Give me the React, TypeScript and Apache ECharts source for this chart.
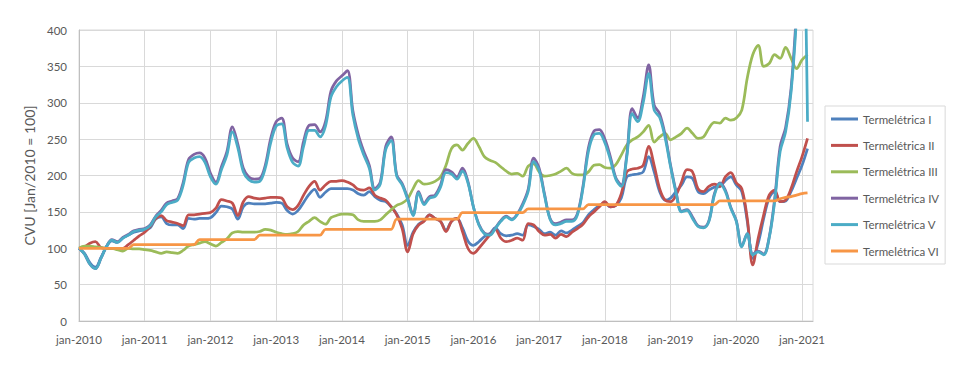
import React, { useEffect, useRef } from "react";
import * as echarts from "echarts";

const MONTHS = ["jan", "fev", "mar", "abr", "mai", "jun", "jul", "ago", "set", "out", "nov", "dez"];
const YEARS = [2010, 2011, 2012, 2013, 2014, 2015, 2016, 2017, 2018, 2019, 2020, 2021];
const LAST_MONTH_2021 = 3; // axis runs to mar-2021
const categories: string[] = [];
YEARS.forEach((y) => {
  MONTHS.forEach((m, i) => {
    if (y < 2021 || i < LAST_MONTH_2021) categories.push(`${m}-${y}`);
  });
});

const SERIES_NAMES = [
  "Termelétrica I",
  "Termelétrica II",
  "Termelétrica III",
  "Termelétrica IV",
  "Termelétrica V",
  "Termelétrica VI",
];

const TERM_I = [
  100, 93, 80, 74, 87, 102, 110, 108, 114, 118,
  122, 124, 125, 128, 140, 143, 134, 132, 132, 127,
  141, 140, 141, 141, 142, 149, 158, 157, 154, 140,
  157, 162, 161, 161, 161, 162, 163, 162, 152, 147,
  152, 163, 174, 181, 170, 177, 182, 182, 182, 182,
  180, 175, 173, 178, 171, 166, 164, 157, 147, 132,
  104, 122, 133, 138, 146, 141, 137, 125, 137, 141,
  128, 110, 104, 109, 116, 120, 128, 120, 117, 118,
  120, 118, 132, 130, 126, 120, 122, 118, 124, 121,
  125, 130, 135, 146, 153, 159, 162, 157, 159, 169,
  198, 201, 202, 205, 226, 205, 178, 166, 169, 178,
  187, 198, 196, 178, 175, 180, 184, 185, 193, 198,
  187, 178, 137, 86, 107, 141, 169, 178, 164, 165,
  178, 196, 214, 237,
];

const TERM_II = [
  100, 102, 107, 109, 101, 100, 100, 100, 100, 105,
  111, 117, 122, 130, 141, 145, 138, 136, 134, 131,
  146, 146, 147, 148, 149, 155, 167, 165, 162, 145,
  164, 171, 169, 168, 169, 170, 170, 169, 157, 153,
  159, 173, 185, 192, 180, 187, 192, 192, 193, 191,
  187, 181, 180, 183, 173, 169, 166, 157, 146, 127,
  95, 120, 132, 137, 146, 141, 137, 123, 137, 141,
  123, 100, 93, 100, 109, 118, 126, 114, 109, 111,
  114, 111, 134, 132, 123, 118, 119, 114, 119, 116,
  122, 127, 133, 143, 150, 157, 164, 157, 159, 175,
  205, 209, 210, 214, 240, 214, 182, 166, 164, 173,
  191, 208, 205, 182, 178, 185, 188, 185, 198, 204,
  190, 182, 141, 77, 114, 146, 173, 180, 164, 166,
  182, 205, 226, 251,
];

const TERM_III = [
  100, 103, 103, 102, 101, 100, 100, 98, 96, 100,
  99, 99, 98, 97, 95, 93, 95, 94, 93, 97,
  103, 105, 107, 109, 106, 103, 108, 113, 121, 123,
  122, 122, 122, 123, 126, 125, 122, 120, 119, 120,
  123, 132, 137, 142, 137, 133, 142, 145, 147, 147,
  146, 139, 137, 137, 137, 139, 146, 153, 159, 162,
  168, 182, 193, 188, 189, 192, 198, 214, 237, 242,
  235, 244, 251, 240, 226, 221, 218, 212, 206, 202,
  203, 199, 213, 216, 205, 199, 200, 202, 206, 210,
  203, 201, 201, 205, 214, 215, 211, 210, 215, 228,
  242, 249, 253, 260, 269, 246, 253, 258, 249, 253,
  258, 265, 258, 251, 253, 265, 273, 272, 279, 276,
  279, 290, 334, 366, 379, 350, 354, 366, 361, 376,
  361, 347, 359, 366,
];

const TERM_IV = [
  100, 92, 78, 72, 86, 102, 112, 109, 115, 119,
  124, 126, 127, 132, 144, 152, 162, 165, 168, 190,
  222, 229, 231, 224, 203, 191, 212, 233, 267, 243,
  210, 198, 195, 196, 214, 251, 274, 279, 243, 224,
  219, 247, 269, 270, 260, 274, 316, 330, 337, 344,
  289, 256, 233, 214, 182, 191, 240, 253, 201, 189,
  169, 146, 178, 162, 171, 173, 187, 208, 205, 198,
  210, 192, 157, 133, 121, 119, 128, 138, 144, 140,
  147, 161, 181, 224, 210, 174, 141, 134, 136, 139,
  139, 148, 185, 238, 261, 263, 250, 226, 197, 187,
  228, 292, 279, 308, 352, 297, 285, 256, 214, 178,
  151, 153, 143, 131, 129, 138, 175, 190, 180, 156,
  138, 103, 120, 92, 96, 92, 115, 168, 240, 266,
  320, 430, 600, 600,
];

const TERM_V = [
  100, 92, 78, 72, 86, 102, 111, 108, 114, 118,
  123, 125, 126, 131, 143, 150, 160, 163, 166, 186,
  218, 224, 226, 218, 198, 188, 208, 228, 260, 238,
  205, 194, 191, 192, 210, 245, 268, 271, 238, 218,
  213, 240, 262, 262, 253, 268, 308, 322, 330, 335,
  283, 250, 228, 210, 180, 188, 236, 248, 199, 187,
  167, 145, 176, 160, 169, 171, 184, 204, 202, 195,
  206, 190, 157, 132, 120, 118, 127, 137, 143, 139,
  146, 159, 178, 219, 207, 172, 140, 132, 134, 137,
  137, 146, 182, 233, 256, 258, 245, 222, 195, 185,
  225, 285, 274, 300, 340, 290, 280, 252, 212, 176,
  150, 152, 141, 130, 128, 137, 173, 189, 178, 155,
  137, 102, 120, 91, 95, 91, 114, 164, 233, 260,
  315, 420, 600, 274,
];

const TERM_VI = [
  100, 100, 100, 100, 100, 100, 100, 100, 100, 100,
  105, 105, 105, 105, 105, 105, 105, 105, 105, 105,
  105, 105, 112, 112, 112, 112, 112, 112, 112, 112,
  112, 112, 112, 118, 118, 118, 118, 118, 118, 118,
  118, 118, 118, 118, 118, 126, 126, 126, 126, 126,
  126, 126, 126, 126, 126, 126, 126, 126, 140, 140,
  140, 140, 140, 140, 140, 140, 140, 140, 140, 140,
  149, 149, 149, 149, 149, 149, 149, 149, 149, 149,
  149, 149, 154, 154, 154, 154, 154, 154, 154, 154,
  154, 154, 154, 160, 160, 160, 160, 160, 160, 160,
  160, 160, 160, 160, 160, 160, 160, 160, 160, 160,
  160, 160, 160, 160, 160, 160, 160, 165, 165, 165,
  165, 165, 165, 165, 165, 165, 165, 165, 168, 170,
  171, 173, 175, 176,
];

const SERIES_DATA = [TERM_I, TERM_II, TERM_III, TERM_IV, TERM_V, TERM_VI];
const COLORS = ["#4F81BD", "#C0504D", "#9BBB59", "#8064A2", "#4BACC6", "#F79646"];

const Y_MIN = 0;
const Y_MAX = 400;
const Y_STEP = 50;

const FONT = "Lato, 'Open Sans', sans-serif";
const TEXT_COLOR = "#595959";
const GRID_COLOR = "#d9d9d9";

export default function App() {
  const ref = useRef<HTMLDivElement>(null);

  useEffect(() => {
    document.body.style.margin = "0";
    if (!ref.current) return;
    const chart = echarts.init(ref.current, undefined, { renderer: "svg" });
    chart.setOption({
      animation: false,
      backgroundColor: "#ffffff",
      color: COLORS,
      grid: {
        left: 79,
        top: 30,
        width: 734,
        height: 291,
        show: true,
        borderColor: GRID_COLOR,
        borderWidth: 1,
        containLabel: false,
      },
      legend: {
        orient: "vertical",
        left: 825,
        top: 106,
        borderColor: GRID_COLOR,
        borderWidth: 1,
        padding: [6, 6, 6, 6],
        itemWidth: 27,
        itemHeight: 3,
        itemGap: 12.4,
        icon: "rect",
        data: SERIES_NAMES,
        textStyle: {
          fontFamily: FONT,
          fontSize: 11.5,
          lineHeight: 14,
          color: TEXT_COLOR,
        },
      },
      xAxis: {
        type: "category",
        data: categories,
        boundaryGap: false,
        axisLine: { show: true, lineStyle: { color: "#bfbfbf", width: 1 } },
        axisTick: { show: false },
        axisLabel: {
          interval: 11,
          margin: 12,
          fontFamily: FONT,
          fontSize: 11.5,
          color: TEXT_COLOR,
        },
        splitLine: { show: true, interval: 11, lineStyle: { color: GRID_COLOR, width: 1 } },
      },
      yAxis: {
        type: "value",
        min: Y_MIN,
        max: Y_MAX,
        interval: Y_STEP,
        name: "CVU [Jan/2010 = 100]",
        nameLocation: "middle",
        nameGap: 40,
        nameTextStyle: { fontFamily: FONT, fontSize: 14, color: TEXT_COLOR },
        axisLine: { show: true, lineStyle: { color: "#bfbfbf", width: 1 } },
        axisTick: { show: false },
        axisLabel: { margin: 12, fontFamily: FONT, fontSize: 11.5, color: TEXT_COLOR },
        splitLine: { show: true, lineStyle: { color: GRID_COLOR, width: 1 } },
      },
      series: SERIES_NAMES.map((name, i) => ({
        name,
        type: "line",
        data: SERIES_DATA[i],
        smooth: 0.35,
        showSymbol: false,
        symbol: "none",
        clip: true,
        lineStyle: { width: 2.75, color: COLORS[i] },
        itemStyle: { color: COLORS[i] },
        emphasis: { disabled: true },
      })),
    });
    return () => chart.dispose();
  }, []);

  return <div ref={ref} style={{ width: 973, height: 378 }} />;
}
